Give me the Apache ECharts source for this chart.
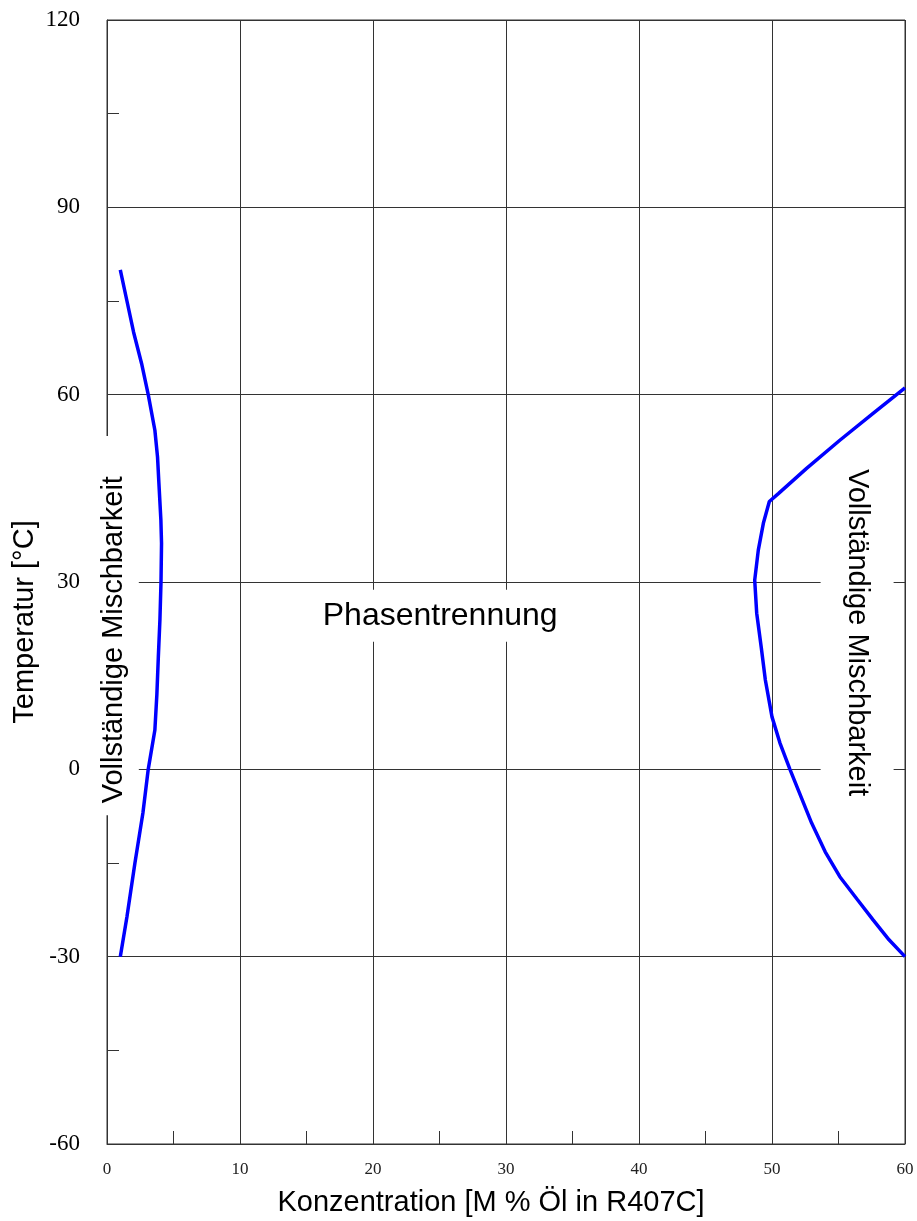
<!DOCTYPE html>
<html><head><meta charset="utf-8">
<script src="https://cdn.jsdelivr.net/npm/echarts@6/dist/echarts.min.js"></script>
<style>html,body{margin:0;padding:0;background:#fff}#c{width:917px;height:1221px}</style>
</head><body><div id="c"></div>
<script>
// Left miscibility boundary: [concentration %, temperature °C]
const leftCurve = [[1.0,80],[1.5,75],[2.0,70],[2.6,65],[3.1,60],[3.6,54.3],[3.8,50],[3.9,45.9],[4.05,40],[4.1,36.2],[4.06,30],[3.98,24],[3.86,18],[3.75,12],[3.6,6.3],[3.1,0],[2.7,-7],[2.1,-15],[1.5,-23.6],[1.0,-30]];
// Right miscibility boundary
const rightCurve = [[60,61.1],[57.6,57.0],[55.1,52.7],[52.6,48.2],[50.5,44.2],[49.8,42.9],[49.35,39.4],[48.97,35.1],[48.7,30.3],[48.85,25],[49.2,19.4],[49.5,14.3],[50.0,8.4],[50.6,4.2],[51.35,0],[52.98,-8.6],[54.0,-13.2],[55.1,-17.2],[56.4,-20.8],[57.6,-24.1],[58.8,-27.3],[60,-30]];
const xTicks = [0,10,20,30,40,50,60];
const yTicks = [-60,-30,0,30,60,90,120];
const regionLabels = ['Vollständige Mischbarkeit','Phasentrennung','Vollständige Mischbarkeit'];
const regionAnchors = [[0.55,23.0],[25.05,24.6],[56.4,21.9]];

const chart = echarts.init(document.getElementById('c'));
const lineCol = '#333';
const labelSettings = [
  {rotate:90, fontSize:29, padding:[8,40,12,12]},
  {rotate:0, fontSize:32, padding:[10,12,10,12]},
  {rotate:-90, fontSize:29, padding:[28,15,16,15]}
];
chart.setOption({
  animation:false,
  grid:{left:107,right:12,top:20,bottom:77,show:true,borderColor:lineCol,borderWidth:1,backgroundColor:'transparent'},
  xAxis:{type:'value',min:xTicks[0],max:xTicks[xTicks.length-1],interval:10,
    axisLine:{onZero:false,lineStyle:{color:lineCol,width:1}},
    axisTick:{show:true,inside:true,length:13,lineStyle:{color:lineCol}},
    minorTick:{show:true,splitNumber:2,length:13,lineStyle:{color:lineCol}},
    splitLine:{show:true,lineStyle:{color:lineCol,width:1}},
    axisLabel:{fontFamily:'Liberation Serif',fontSize:17,color:'#222',margin:17}},
  yAxis:{type:'value',min:yTicks[0],max:yTicks[yTicks.length-1],interval:30,
    axisLine:{show:true,onZero:false,lineStyle:{color:lineCol,width:1}},
    axisTick:{show:true,inside:true,length:12,lineStyle:{color:lineCol}},
    minorTick:{show:true,splitNumber:2,length:12,lineStyle:{color:lineCol}},
    splitLine:{show:true,lineStyle:{color:lineCol,width:1}},
    axisLabel:{fontFamily:'Liberation Serif',fontSize:23,color:'#000',margin:27}},
  graphic:[
    {type:'text',x:491,y:1203,style:{text:'Konzentration [M % Öl in R407C]',fontFamily:'Liberation Sans',fontSize:29,fill:'#000',align:'center',verticalAlign:'middle'}},
    {type:'text',x:25,y:622,rotation:Math.PI/2,style:{text:'Temperatur [°C]',fontFamily:'Liberation Sans',fontSize:29,fill:'#000',align:'center',verticalAlign:'middle'}}
  ],
  series:[
    {type:'scatter',z:1,silent:true,symbolSize:0,itemStyle:{opacity:1},
      data:regionAnchors.map((p,i)=>({value:p,label:{show:true,position:'inside',formatter:regionLabels[i],rotate:labelSettings[i].rotate,
        padding:labelSettings[i].padding,backgroundColor:'#fff',fontFamily:'Liberation Sans',fontSize:labelSettings[i].fontSize,color:'#000',opacity:1}}))},
    {type:'line',z:3,data:leftCurve,showSymbol:false,smooth:false,lineStyle:{color:'#0000ff',width:3.5}},
    {type:'line',z:3,data:rightCurve,showSymbol:false,smooth:false,lineStyle:{color:'#0000ff',width:3.5}}
  ]
});
</script></body></html>
